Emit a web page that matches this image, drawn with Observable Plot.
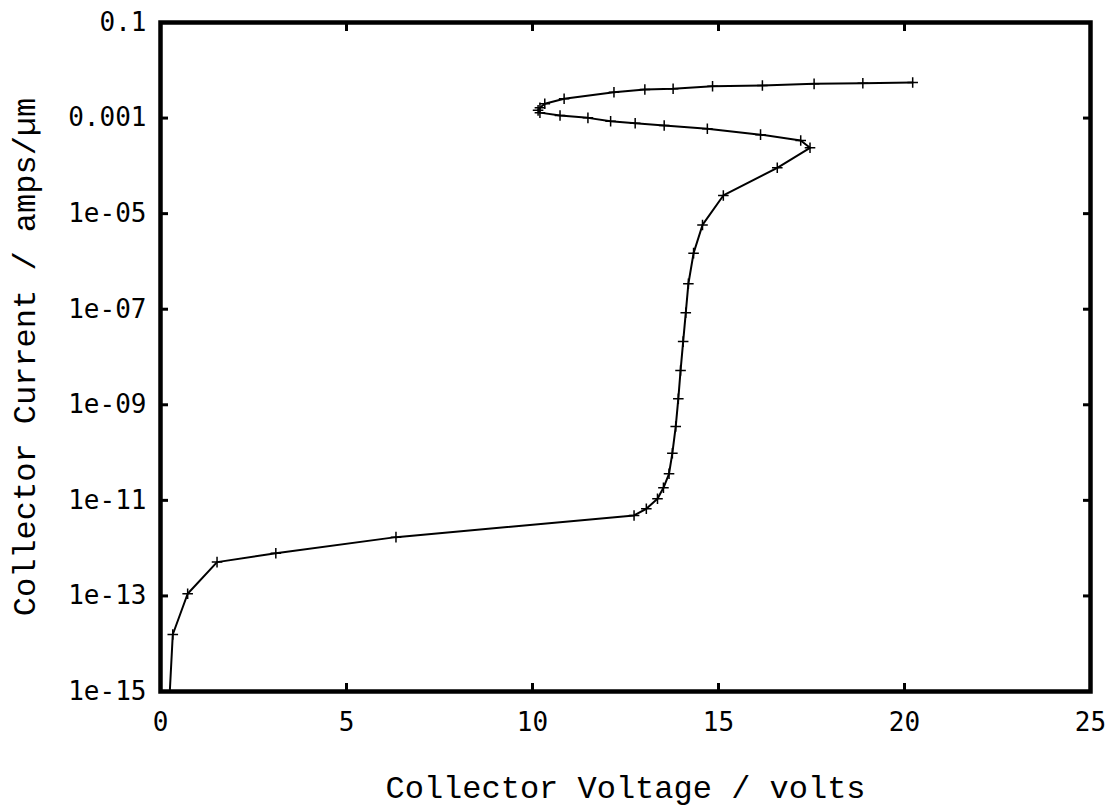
<!DOCTYPE html>
<html><head><meta charset="utf-8">
<script src="https://cdn.jsdelivr.net/npm/d3@7"></script>
<script src="https://cdn.jsdelivr.net/npm/@observablehq/plot@0.6"></script>
<style>body{margin:0;background:#fff}</style>
</head><body><div id="chart"></div>
<script>
const voltage = [0.23, 0.33, 0.73, 1.52, 3.10, 6.33, 12.73, 13.06, 13.36, 13.52, 13.67, 13.76, 13.85, 13.92, 13.98, 14.05, 14.12, 14.19, 14.33, 14.57, 15.13, 16.58, 17.46, 17.21, 16.13, 14.70, 13.54, 12.76, 12.10, 11.49, 10.74, 10.20, 10.15, 10.20, 10.33, 10.85, 12.19, 13.02, 13.78, 14.84, 16.18, 17.57, 18.88, 20.22];
const current = [5e-16, 1.56e-14, 1.11e-13, 5.1e-13, 7.85e-13, 1.70e-12, 4.83e-12, 6.67e-12, 1.08e-11, 1.83e-11, 3.6e-11, 9.7e-11, 3.5e-10, 1.34e-9, 5.2e-9, 2.1e-8, 8.4e-8, 3.4e-7, 1.49e-6, 5.8e-6, 2.4e-5, 9.1e-5, 2.39e-4, 3.4e-4, 4.5e-4, 5.97e-4, 7.0e-4, 7.8e-4, 8.6e-4, 1.01e-3, 1.13e-3, 1.3e-3, 1.45e-3, 1.65e-3, 1.99e-3, 2.53e-3, 3.48e-3, 3.96e-3, 4.1e-3, 4.65e-3, 4.8e-3, 5.2e-3, 5.37e-3, 5.55e-3];
const xTicks = [0, 5, 10, 15, 20, 25];
const yTicks = [1e-15, 1e-13, 1e-11, 1e-9, 1e-7, 1e-5, 1e-3, 1e-1];
const yTickLabels = ["1e-15", "1e-13", "1e-11", "1e-09", "1e-07", "1e-05", "0.001", "0.1"];
const xTitle = "Collector Voltage / volts";
const yTitle = "Collector Current / amps/µm";

const data = voltage.map((v, i) => ({v, c: current[i]}));
const yLabelMap = new Map(yTicks.map((t, i) => [t, yTickLabels[i]]));
const tickFont = "'DejaVu Sans Mono', monospace";
const titleFont = "'Liberation Mono', 'Nimbus Mono PS', 'Nimbus Mono L', FreeMono, Courier, 'DejaVu Sans Mono', monospace";

const chart = Plot.plot({
  width: 1112, height: 808,
  marginLeft: 160, marginRight: 22, marginTop: 22, marginBottom: 117,
  style: {fontFamily: tickFont, fontSize: "26px", color: "#000", background: "#fff"},
  x: {domain: [0, 25]},
  y: {type: "log", domain: [1e-15, 0.1]},
  marks: [
    Plot.line(data, {x: "v", y: "c", stroke: "#000", strokeWidth: 2, clip: true}),
    Plot.dot(data, {x: "v", y: "c", symbol: "plus", r: 3.5, stroke: "#000", strokeWidth: 1.5, clip: true}),
    Plot.axisX(xTicks, {anchor: "bottom", tickSize: -8, tickFormat: () => "", label: null, strokeWidth: 3}),
    Plot.axisX(xTicks, {anchor: "top", tickSize: -8, tickFormat: () => "", label: null, strokeWidth: 3}),
    Plot.axisY(yTicks, {anchor: "left", tickSize: -8, tickFormat: () => "", label: null, strokeWidth: 3}),
    Plot.axisY(yTicks, {anchor: "right", tickSize: -8, tickFormat: () => "", label: null, strokeWidth: 3}),
    Plot.axisX(xTicks, {anchor: "bottom", tickSize: 0, tickPadding: 21, tickFormat: d => String(d), label: null}),
    Plot.axisY(yTicks, {anchor: "left", tickSize: 0, tickPadding: 14, tickFormat: d => yLabelMap.get(d), label: null}),
    Plot.frame({stroke: "#000", strokeWidth: 4.5}),
    Plot.text([xTitle], {text: d => d, frameAnchor: "bottom", dy: 96, textAnchor: "middle", lineAnchor: "middle", fontSize: 32, fontFamily: titleFont}),
    Plot.text([yTitle], {text: d => d, frameAnchor: "left", dx: -136, rotate: -90, textAnchor: "middle", lineAnchor: "middle", fontSize: 32, fontFamily: titleFont})
  ]
});
document.getElementById("chart").appendChild(chart);
</script>
</body></html>
